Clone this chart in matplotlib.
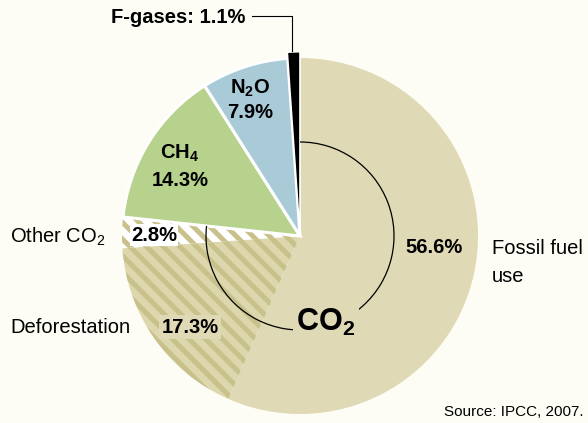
import matplotlib
matplotlib.use("Agg")
import matplotlib.pyplot as plt
from matplotlib.patches import Arc

# greenhouse gas shares (%), clockwise from 12 o'clock
gases = ["Fossil fuel use", "Deforestation", "Other CO2", "CH4", "N2O", "F-gases"]
shares = [56.6, 17.3, 2.8, 14.3, 7.9, 1.1]
pct_labels = ["56.6%", "17.3%", "2.8%", "14.3%", "7.9%", "1.1%"]
co2_parts = 3  # first three slices are CO2

plt.rcParams['font.family'] = ['Liberation Sans', 'DejaVu Sans']
plt.rcParams['mathtext.default'] = 'regular'
plt.rcParams['hatch.linewidth'] = 3.6

bg = "#fdfdf5"
tan = "#dfdab5"
olive = "#c9c18b"
colors = [tan, "#ddd7ae", "white", "#b7d28c", "#a9cbd7", "black"]

fig = plt.figure(figsize=(5.88, 4.23), dpi=100, facecolor=bg)
ax = fig.add_axes([0, 0, 1, 1])
ax.set_facecolor(bg)

wedges, _ = ax.pie(shares, colors=colors, startangle=90, counterclock=False,
                   radius=1.0, wedgeprops=dict(linewidth=0))

# CO2 parts: hatched stripes, no outline
for w in wedges[1:co2_parts]:
    w.set_hatch("\\\\")
    w.set_edgecolor(olive)
    w.set_linewidth(0)
# other gases: white outline
for w in wedges[co2_parts:]:
    w.set_edgecolor("white")
    w.set_linewidth(2.2)
    w.set_zorder(3)
wedges[-1].set_radius(1.035)
wedges[-1].set_linewidth(1.2)

# pixel -> data helper (centre at 300,236, radius 178 px)
R = 178.0
def P(px, py):
    return (px - 300) / R, (236 - py) / R

ax.set_xlim(-300 / R, 288 / R)
ax.set_ylim(-(423 - 236) / R, 236 / R)
ax.set_aspect('equal')
ax.axis('off')

# bracket arc around the CO2 slices
co2_total = sum(shares[:co2_parts])
a_end = 90 - 360 * co2_total / 100 + 360
ax.add_patch(Arc((0, 0), 2 * 94 / R, 2 * 94 / R, theta1=a_end, theta2=450,
                 color="black", linewidth=0.9, zorder=4))

fs = 14.5
bold = dict(fontsize=fs, fontweight='bold', ha='center', va='center', zorder=6)
norm = dict(fontsize=fs, ha='left', va='center', zorder=6)

ax.text(*P(434, 247), pct_labels[0], **bold)
ax.text(*P(190, 327), pct_labels[1], bbox=dict(boxstyle='square,pad=0.1', fc=tan, ec='none'), **bold)
ax.text(*P(154, 235), pct_labels[2], bbox=dict(boxstyle='square,pad=0.05', fc='white', ec='none'), **bold)
ax.text(*P(180, 153), "CH$_4$", **bold)
ax.text(*P(180, 180), pct_labels[3], **bold)
ax.text(*P(250, 88), "N$_2$O", **bold)
ax.text(*P(250, 113), pct_labels[4], **bold)
ax.text(*P(245, 18), "F-gases: " + pct_labels[5], fontsize=fs, fontweight='bold',
        ha='right', va='center', zorder=6)
ax.plot(*zip(P(252, 16), P(292, 16), P(292, 51)), color='black', linewidth=0.8, zorder=6)

ax.text(*P(326, 322), "CO$_2$", fontsize=22, fontweight='bold', ha='center', va='center',
        bbox=dict(boxstyle='square,pad=0.1', fc=tan, ec='none'), zorder=6)

ax.text(*P(492, 248), "Fossil fuel", **norm)
ax.text(*P(492, 276), "use", **norm)
ax.text(*P(10, 237), "Other CO$_2$", **norm)
ax.text(*P(10, 327), "Deforestation", **norm)
ax.text(*P(583, 412), "Source: IPCC, 2007.", fontsize=11, ha='right', va='center')

fig.savefig("out.png", dpi=100, facecolor=bg)
